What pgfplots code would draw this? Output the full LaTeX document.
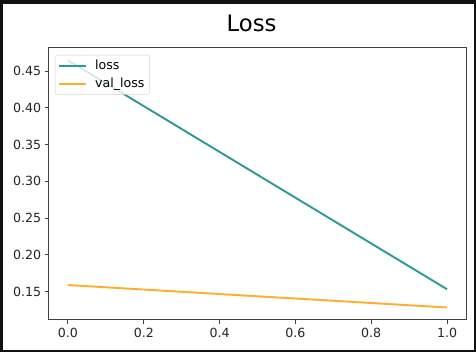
\documentclass[border=0pt]{standalone}
\usepackage{fontspec}
\setmainfont{DejaVu Sans}
\usepackage{pgfplots}
\pgfplotsset{compat=1.18}
\definecolor{lossc}{HTML}{2B9A94}
\definecolor{valc}{HTML}{FFAD2A}
\definecolor{frame}{HTML}{111111}
\begin{document}
\begin{tikzpicture}
\fill[frame] (-49pt,-32pt) rectangle (427pt,320pt);
\fill[white] (-46pt,-30pt) rectangle (425pt,316pt);
\node[anchor=base, font=\fontsize{22.7}{27}\selectfont] at (202.5pt,288pt) {Loss};
\begin{axis}[
  at={(0pt,0pt)}, anchor=south west,
  scale only axis, width=417pt, height=272pt,
  xmin=-0.05, xmax=1.05, ymin=0.1115, ymax=0.4813,
  axis line style={black!75, line width=1pt},
  every tick/.style={black!75, line width=1pt},
  tick align=outside, major tick length=4.4pt, tick pos=left,
  xtick={0,0.2,0.4,0.6,0.8,1.0},
  ytick={0.15,0.2,0.25,0.3,0.35,0.4,0.45},
  x tick label style={/pgf/number format/.cd, fixed, fixed zerofill, precision=1, assume math mode=true},
  y tick label style={/pgf/number format/.cd, fixed, fixed zerofill, precision=2, assume math mode=true},
  tick label style={font=\fontsize{12.6}{15}\selectfont, text=black!85},
  legend style={at={(0,1)}, anchor=north west, xshift=6pt, yshift=-7pt,
    draw=black!18, rounded corners=2pt, fill=white, fill opacity=0.8, text opacity=1,
    font=\fontsize{12.6}{15}\selectfont, inner xsep=3pt, inner ysep=3pt,
    row sep=3pt, /tikz/every odd column/.append style={column sep=6pt}},
  legend cell align=left,
  legend image code/.code={\draw[#1] (0pt,0pt) -- (27pt,0pt);},
]
\addplot[lossc, line width=1.9pt] coordinates {(0,0.4645) (1,0.1533)};
\addlegendentry{loss}
\addplot[valc, line width=1.9pt] coordinates {(0,0.1590) (1,0.1285)};
\addlegendentry{val\_loss}
\end{axis}
\end{tikzpicture}
\end{document}
